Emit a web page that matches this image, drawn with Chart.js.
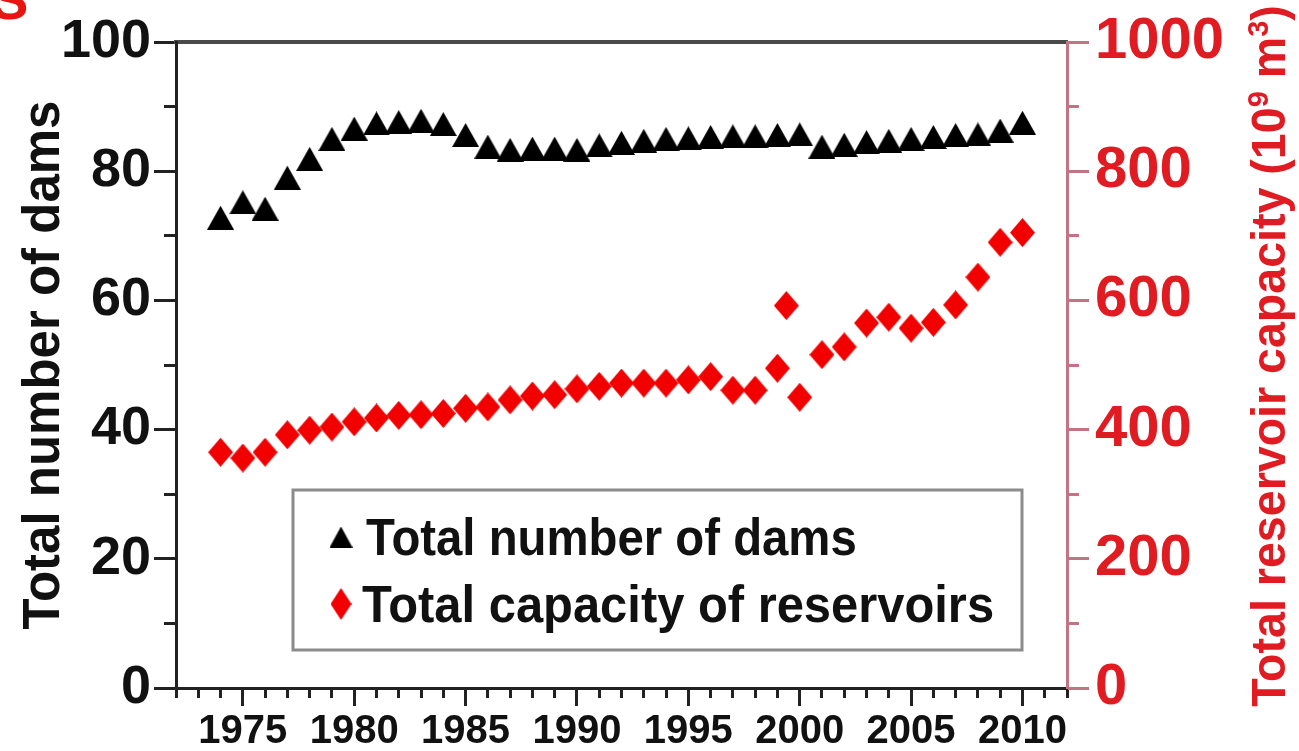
<!DOCTYPE html>
<html>
<head>
<meta charset="utf-8">
<script src="https://cdn.jsdelivr.net/npm/chart.js@4.4.1/dist/chart.umd.min.js"></script>
<style>
  html, body { margin: 0; padding: 0; background: #fff; overflow: hidden; }
  #wrap { position: relative; width: 1299px; height: 751px; overflow: hidden; }
  #c { position: absolute; left: 0; top: 0; }
  #panel { position: absolute; left: -9px; top: -33px; line-height: 1;
           font: bold 56px "Liberation Sans", Arial, sans-serif; color: #e8140f; }
</style>
</head>
<body>
<div id="wrap">
  <canvas id="c" width="1299" height="751"></canvas>
  <div id="panel">S</div>
</div>
<script>
// Annual series, 1974-2010
const years = [1974, 1975, 1976, 1977, 1978, 1979, 1980, 1981, 1982, 1983,
               1984, 1985, 1986, 1987, 1988, 1989, 1990, 1991, 1992, 1993,
               1994, 1995, 1996, 1997, 1998, 1999, 2000, 2001, 2002, 2003,
               2004, 2005, 2006, 2007, 2008, 2009, 2010];
const damCounts = [72.8, 75.2, 74.2, 79.0, 81.9, 85.0, 86.6, 87.4, 87.6, 87.8,
                   87.3, 85.6, 83.8, 83.3, 83.5, 83.5, 83.3, 84.0, 84.4, 84.7,
                   85.0, 85.1, 85.3, 85.4, 85.4, 85.6, 85.7, 83.8, 84.1, 84.5,
                   84.7, 85.0, 85.3, 85.6, 85.7, 86.3, 87.5];

// Reservoir capacity (10^9 m^3); 1999 has two reported values
const capacityYears = [1974, 1975, 1976, 1977, 1978, 1979, 1980, 1981, 1982, 1983,
                       1984, 1985, 1986, 1987, 1988, 1989, 1990, 1991, 1992, 1993,
                       1994, 1995, 1996, 1997, 1998, 1999, 1999.4, 2000, 2001, 2002,
                       2003, 2004, 2005, 2006, 2007, 2008, 2009, 2010];
const capacityValues = [365, 356, 365, 392, 399, 404, 412, 418, 422, 423,
                        425, 433, 435, 446, 452, 454, 463, 467, 472, 472,
                        472, 477, 482, 461, 461, 495, 592, 450, 516, 528,
                        565, 574, 557, 566, 593, 636, 690, 705];

// Axis ticks and texts
const yearTicks = [1975, 1980, 1985, 1990, 1995, 2000, 2005, 2010];
const damTicks = [0, 20, 40, 60, 80, 100];
const capacityTicks = [0, 200, 400, 600, 800, 1000];
const damLabel = 'Total number of dams';
const capacityLabel = 'Total capacity of reservoirs';
const damAxisTitle = 'Total number of dams';
// [text, superscript?]
const capacityAxisTitle = [['Total reservoir capacity (10', false], ['9', true], [' m', false], ['3', true], [')', false]];

const FONT = '"Liberation Sans", Arial, Helvetica, sans-serif';
const INK = '#111111';
const RED = '#f20000';
const RED_TEXT = '#e01b22';
const RIGHT_AXIS = '#c27384';
const X_MIN = 1972, X_MAX = 2012;

// Marker bitmaps centred on their bounding box
function makeMarker(w, h, color, pts) {
  const c = document.createElement('canvas');
  c.width = w; c.height = h;
  const g = c.getContext('2d');
  g.fillStyle = color;
  g.beginPath();
  pts.forEach(([px, py], i) => i ? g.lineTo(px * w, py * h) : g.moveTo(px * w, py * h));
  g.closePath();
  g.fill();
  return c;
}
const triangleMarker = makeMarker(27, 24, '#000000', [[0.5, 0], [1, 1], [0, 1]]);
const diamondMarker = makeMarker(25, 29, RED, [[0.5, 0], [1, 0.5], [0.5, 1], [0, 0.5]]);
const legendTriangle = makeMarker(23, 21, '#000000', [[0.5, 0], [1, 1], [0, 1]]);
const legendDiamond = makeMarker(21, 32, RED, [[0.5, 0], [1, 0.5], [0.5, 1], [0, 0.5]]);

// Draw a text run squeezed horizontally by sx, starting at (x, y)
function squeezedText(ctx, text, x, y, sx) {
  ctx.save();
  ctx.translate(x, y);
  ctx.scale(sx, 1);
  ctx.fillText(text, 0, 0);
  ctx.restore();
  return ctx.measureText(text).width * sx;
}

const overlay = {
  id: 'overlay',
  afterDraw(chart) {
    const { ctx, chartArea: a } = chart;
    ctx.save();

    // Legend box inside the plot
    const bx = a.left + 117, by = a.bottom - 198, bw = 729, bh = 160;
    ctx.fillStyle = '#ffffff';
    ctx.fillRect(bx, by, bw, bh);
    ctx.strokeStyle = '#8c8c8c';
    ctx.lineWidth = 3;
    ctx.strokeRect(bx, by, bw, bh);

    const entries = [
      { img: legendTriangle, label: chart.data.datasets[0].label, my: by + 47, ty: by + 65, tx: bx + 73, sx: 0.91 },
      { img: legendDiamond, label: chart.data.datasets[1].label, my: by + 114, ty: by + 132, tx: bx + 69, sx: 0.94 }
    ];
    ctx.font = 'bold 52px ' + FONT;
    ctx.fillStyle = INK;
    ctx.textAlign = 'left';
    ctx.textBaseline = 'alphabetic';
    entries.forEach(e => {
      ctx.drawImage(e.img, bx + 48 - e.img.width / 2, e.my - e.img.height / 2);
      squeezedText(ctx, e.label, e.tx, e.ty, e.sx);
    });

    // Right axis title, reading bottom to top
    const big = 'bold 48px ' + FONT, small = 'bold 30px ' + FONT;
    const sx = 0.97;
    let total = 0;
    capacityAxisTitle.forEach(([t, sup]) => { ctx.font = sup ? small : big; total += ctx.measureText(t).width * sx; });
    ctx.translate(a.right + 218, (a.top + a.bottom) / 2 - 9);
    ctx.rotate(-Math.PI / 2);
    ctx.fillStyle = RED_TEXT;
    let x = -total / 2;
    capacityAxisTitle.forEach(([t, sup]) => {
      ctx.font = sup ? small : big;
      x += squeezedText(ctx, t, x, sup ? -17 : 0, sx);
    });
    ctx.restore();
  }
};

const tickGrid = (len, color) => ({ display: true, drawOnChartArea: false, drawTicks: true, tickLength: len, tickWidth: 3, tickColor: color });

new Chart(document.getElementById('c'), {
  type: 'scatter',
  data: {
    datasets: [
      {
        label: damLabel,
        data: years.map((yr, i) => ({ x: yr, y: damCounts[i] })),
        xAxisID: 'x', yAxisID: 'y',
        pointStyle: triangleMarker, pointRadius: 13, showLine: false
      },
      {
        label: capacityLabel,
        data: capacityYears.map((yr, i) => ({ x: yr, y: capacityValues[i] })),
        xAxisID: 'x', yAxisID: 'y1',
        pointStyle: diamondMarker, pointRadius: 13, showLine: false
      }
    ]
  },
  options: {
    responsive: false,
    animation: false,
    devicePixelRatio: 1,
    layout: { padding: { top: 42, left: 0, right: 0, bottom: 0 } },
    plugins: { legend: { display: false }, tooltip: { enabled: false }, title: { display: false } },
    scales: {
      x: {
        type: 'linear', position: 'bottom', weight: 1, min: X_MIN, max: X_MAX,
        afterBuildTicks: s => { s.ticks = yearTicks.map(v => ({ value: v })); },
        afterFit: s => { s.height = 63; },
        ticks: { font: { family: FONT, size: 40, weight: 'bold' }, color: INK, padding: 2, maxRotation: 0, autoSkip: false,
                 callback: v => String(v) },
        grid: tickGrid(18, '#222222'),
        border: { display: true, color: '#222222', width: 3 }
      },
      xMinor: {
        type: 'linear', position: 'bottom', weight: 0, min: X_MIN, max: X_MAX,
        afterFit: s => { s.height = 0; },
        ticks: { display: false, stepSize: 1 },
        grid: tickGrid(10, '#222222'),
        border: { display: false }
      },
      xTop: {
        type: 'linear', position: 'top', min: X_MIN, max: X_MAX,
        afterFit: s => { s.height = 0; },
        ticks: { display: false },
        grid: { display: false },
        border: { display: true, color: '#4a4a4a', width: 4 }
      },
      y: {
        type: 'linear', position: 'left', weight: 1, min: 0, max: 100,
        afterBuildTicks: s => { s.ticks = damTicks.map(v => ({ value: v })); },
        afterFit: s => { s.width = 176; },
        ticks: { font: { family: FONT, size: 54, weight: 'bold' }, color: INK, padding: 3, callback: v => String(v) },
        grid: tickGrid(22, '#222222'),
        border: { display: true, color: '#222222', width: 3 },
        title: { display: true, text: damAxisTitle, color: INK, font: { family: FONT, size: 51, weight: 'bold' }, padding: { top: 14, bottom: 0 } }
      },
      yMinor: {
        type: 'linear', position: 'left', weight: 0, min: 0, max: 100,
        afterFit: s => { s.width = 0; },
        ticks: { display: false, stepSize: 10 },
        grid: tickGrid(12, '#222222'),
        border: { display: false }
      },
      y1: {
        type: 'linear', position: 'right', weight: 1, min: 0, max: 1000,
        afterBuildTicks: s => { s.ticks = capacityTicks.map(v => ({ value: v })); },
        afterFit: s => { s.width = 232; },
        ticks: { font: { family: FONT, size: 58, weight: 'bold' }, color: RED_TEXT, padding: 6, callback: v => String(v) },
        grid: tickGrid(22, RIGHT_AXIS),
        border: { display: true, color: RIGHT_AXIS, width: 3 }
      },
      y1Minor: {
        type: 'linear', position: 'right', weight: 0, min: 0, max: 1000,
        afterFit: s => { s.width = 0; },
        ticks: { display: false, stepSize: 100 },
        grid: tickGrid(12, RIGHT_AXIS),
        border: { display: false }
      }
    }
  },
  plugins: [overlay]
});
</script>
</body>
</html>
